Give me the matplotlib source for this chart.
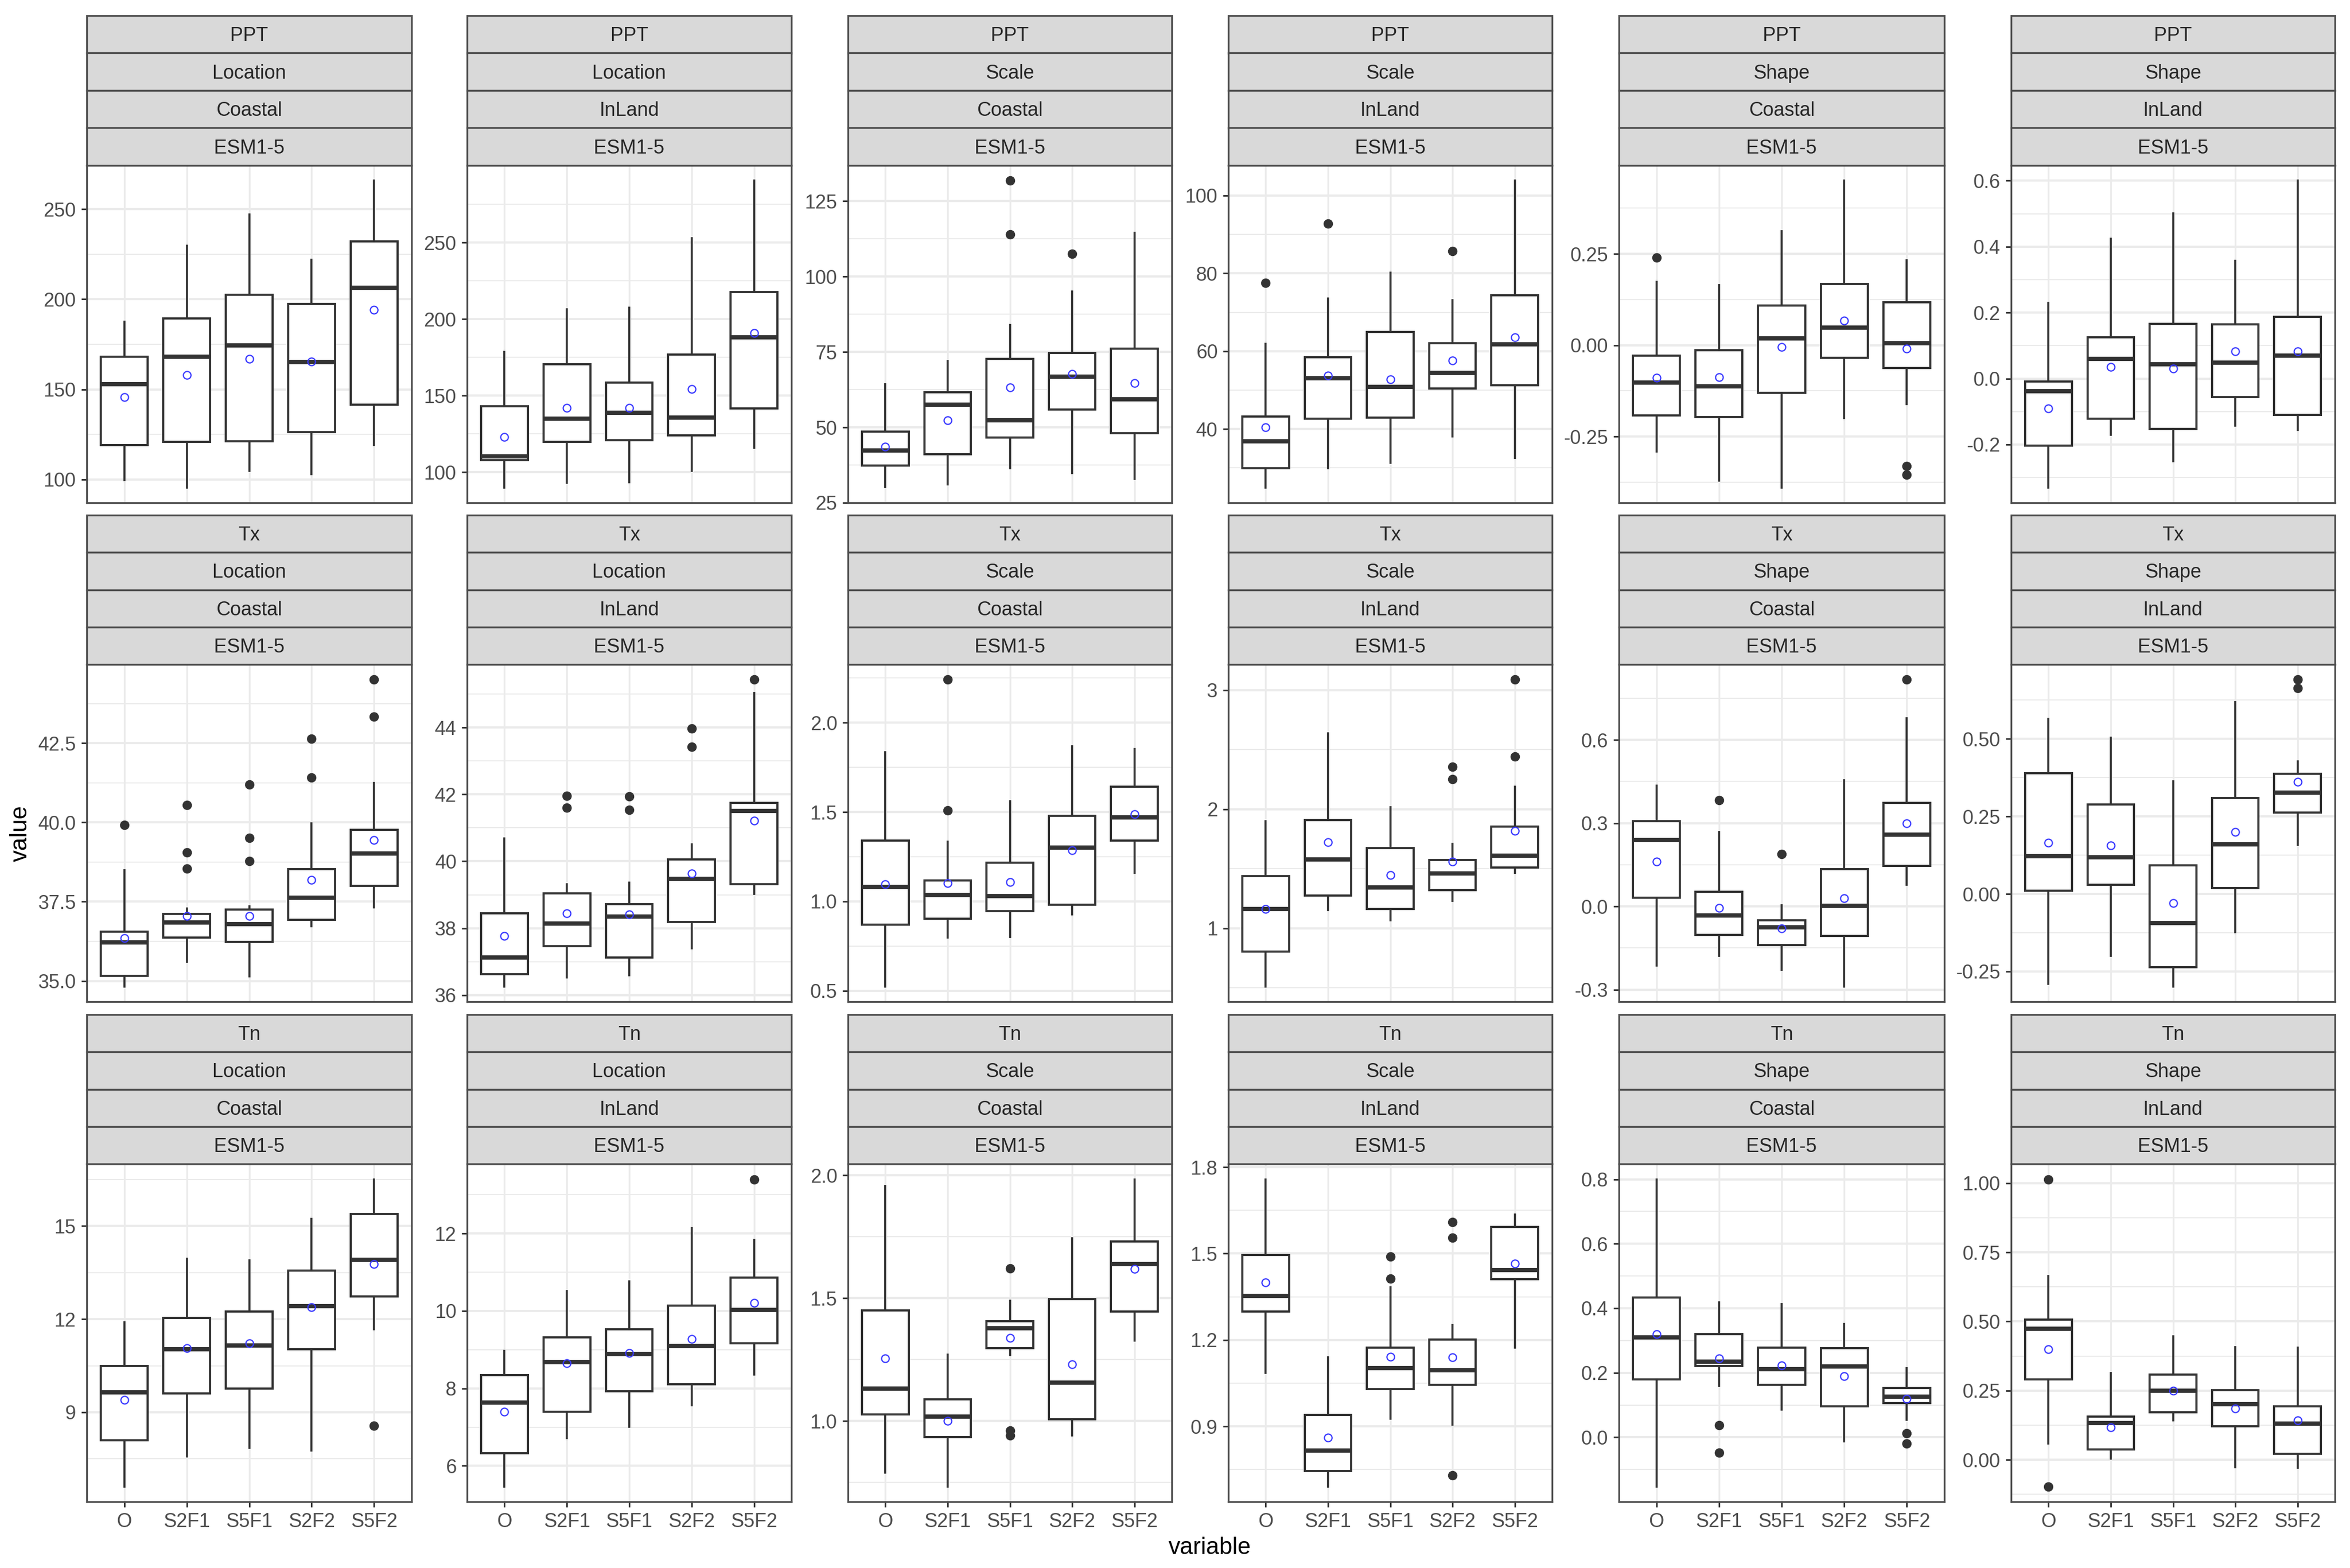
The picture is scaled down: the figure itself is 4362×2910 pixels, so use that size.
import matplotlib
matplotlib.use('Agg')
import matplotlib.pyplot as plt
from matplotlib.patches import Rectangle
from matplotlib.ticker import AutoMinorLocator

plt.rcParams['font.family'] = ['Liberation Sans', 'DejaVu Sans']

# scenarios on the x axis
variables = ['O', 'S2F1', 'S5F1', 'S2F2', 'S5F2']
params = ['PPT', 'Tx', 'Tn']
metrics = ['Location', 'Location', 'Scale', 'Scale', 'Shape', 'Shape']
regions = ['Coastal', 'InLand', 'Coastal', 'InLand', 'Coastal', 'InLand']
model = 'ESM1-5'

# each row: whisker low, q1, median, q3, whisker high, mean
ppt_loc_coastal = [[99.6, 119, 153, 168, 187.7, 145.7], [95.6, 121, 168, 189.4, 229.6, 158],
                   [104.8, 121.3, 174.3, 202.4, 247, 167], [102.9, 126.3, 165, 197.4, 222, 165.4],
                   [119, 141.4, 206.5, 232, 265.8, 194.2]]
ppt_loc_inland = [[90.1, 108, 110.3, 143, 178.7, 122.9], [93, 120, 135, 170.4, 206.3, 142],
                  [93.5, 120.9, 138.8, 158.5, 207.4, 142], [100.7, 124, 135.6, 176.7, 252.7, 154.3],
                  [116, 141.7, 188.1, 217.5, 290.3, 191]]
ppt_scale_coastal = [[30.1, 37.4, 42.3, 48.6, 64.3, 43.6], [31, 41, 57.6, 61.6, 72, 52.4],
                     [36.5, 46.6, 52.4, 72.7, 84, 63.2], [34.9, 56, 66.9, 74.7, 95, 67.7],
                     [32.9, 48.1, 59.3, 76.1, 114.5, 64.6]]
ppt_scale_inland = [[25, 29.9, 36.9, 43.2, 61.9, 40.5], [29.9, 42.7, 53.1, 58.5, 73.5, 53.8],
                    [31.3, 42.9, 50.8, 64.9, 80.2, 52.8], [38.1, 50.4, 54.4, 62.1, 73.1, 57.6],
                    [32.6, 51.2, 61.8, 74.4, 103.8, 63.5]]
ppt_shape_coastal = [[-.291, -.192, -.102, -.028, .173, -.089], [-.370, -.196, -.113, -.013, .165, -.087],
                     [-.389, -.130, .019, .109, .312, -.005], [-.200, -.035, .048, .168, .450, .068],
                     [-.161, -.062, .006, .118, .232, -.010]]
ppt_shape_inland = [[-.330, -.203, -.039, -.009, .230, -.090], [-.171, -.122, .060, .125, .425, .035],
                    [-.251, -.153, .043, .166, .501, .030], [-.142, -.057, .048, .164, .358, .082],
                    [-.156, -.110, .069, .188, .600, .082]]

tx_loc_coastal = [[34.83, 35.17, 36.22, 36.56, 38.5, 36.35], [35.6, 36.37, 36.85, 37.12, 37.29, 37.04],
                  [35.14, 36.23, 36.79, 37.25, 37.35, 37.04], [36.73, 36.93, 37.62, 38.52, 39.97, 38.19],
                  [37.32, 38.0, 39.02, 39.77, 41.24, 39.45]]
tx_loc_inland = [[36.26, 36.62, 37.13, 38.44, 40.68, 37.76], [36.53, 37.46, 38.13, 39.04, 39.32, 38.45],
                 [36.59, 37.13, 38.34, 38.71, 39.36, 38.41], [37.4, 38.18, 39.48, 40.06, 40.51, 39.63],
                 [39.02, 39.32, 41.51, 41.75, 45.04, 41.21]]
tx_scale_coastal = [[.524, .871, 1.081, 1.339, 1.836, 1.096], [.796, .904, 1.037, 1.116, 1.333, 1.103],
                    [.801, .946, 1.028, 1.216, 1.560, 1.107], [.926, .982, 1.302, 1.479, 1.867, 1.286],
                    [1.158, 1.340, 1.470, 1.642, 1.854, 1.488]]
tx_scale_inland = [[.512, .805, 1.164, 1.438, 1.901, 1.164], [1.151, 1.277, 1.578, 1.907, 2.636, 1.721],
                   [1.068, 1.164, 1.345, 1.671, 2.019, 1.449], [1.230, 1.321, 1.460, 1.573, 1.710, 1.562],
                   [1.463, 1.512, 1.608, 1.855, 2.189, 1.817]]
tx_shape_coastal = [[-.214, .032, .240, .308, .435, .162], [-.179, -.103, -.033, .052, .268, -.006],
                    [-.228, -.140, -.075, -.051, .004, -.079], [-.288, -.107, .002, .135, .454, .029],
                    [.079, .146, .258, .373, .679, .300]]
tx_shape_inland = [[-.290, .011, .122, .390, .565, .165], [-.200, .029, .118, .289, .504, .156],
                   [-.298, -.236, -.093, .092, .363, -.029], [-.124, .020, .160, .309, .618, .200],
                   [.158, .263, .326, .388, .428, .362]]

tn_loc_coastal = [[6.61, 8.09, 9.64, 10.5, 11.9, 9.4], [7.57, 9.61, 11.03, 12.04, 13.94, 11.06],
                  [7.85, 9.77, 11.15, 12.25, 13.9, 11.22], [7.77, 11.03, 12.42, 13.57, 15.24, 12.39],
                  [11.67, 12.74, 13.91, 15.39, 16.51, 13.77]]
tn_loc_inland = [[5.47, 6.33, 7.64, 8.34, 8.97, 7.4], [6.71, 7.4, 8.67, 9.31, 10.52, 8.65],
                 [7.01, 7.92, 8.89, 9.53, 10.77, 8.91], [7.56, 8.11, 9.1, 10.14, 12.14, 9.27],
                 [8.36, 9.16, 10.02, 10.86, 11.84, 10.21]]
tn_scale_coastal = [[.789, 1.027, 1.131, 1.449, 1.957, 1.255], [.734, .935, 1.019, 1.089, 1.270, 1.0],
                    [1.268, 1.296, 1.377, 1.407, 1.489, 1.339], [.942, 1.006, 1.157, 1.496, 1.743, 1.231],
                    [1.328, 1.446, 1.638, 1.730, 1.984, 1.619]]
tn_scale_inland = [[1.086, 1.299, 1.354, 1.495, 1.758, 1.399], [.692, .745, .816, .939, 1.140, .862],
                   [.927, 1.029, 1.102, 1.173, 1.383, 1.141], [.907, 1.044, 1.095, 1.202, 1.252, 1.140],
                   [1.173, 1.411, 1.443, 1.593, 1.635, 1.466]]
tn_shape_coastal = [[-.152, .180, .310, .433, .800, .319], [.159, .221, .234, .319, .419, .244],
                    [.086, .162, .211, .278, .413, .223], [-.013, .096, .219, .276, .351, .190],
                    [.055, .106, .126, .153, .215, .119]]
tn_shape_inland = [[.058, .291, .473, .506, .665, .399], [.005, .037, .133, .156, .314, .117],
                   [.142, .171, .249, .309, .447, .249], [-.026, .121, .201, .251, .408, .185],
                   [-.028, .021, .131, .194, .405, .142]]

# outliers per box
ppt_loc_coastal_out = [[], [], [], [], []]
ppt_loc_inland_out = [[], [], [], [], []]
ppt_scale_coastal_out = [[], [], [131.8, 114], [107.5], []]
ppt_scale_inland_out = [[77.5], [92.8], [], [85.7], []]
ppt_shape_coastal_out = [[.240], [], [], [], [-.330, -.354]]
ppt_shape_inland_out = [[], [], [], [], []]
tx_loc_coastal_out = [[39.92], [40.55, 39.05, 38.54], [41.2, 39.52, 38.78], [42.64, 41.42], [44.5, 43.33]]
tx_loc_inland_out = [[], [41.95, 41.6], [41.94, 41.53], [43.97, 43.42], [45.43]]
tx_scale_coastal_out = [[], [2.241, 1.508], [], [], []]
tx_scale_inland_out = [[], [], [], [2.356, 2.252], [3.088, 2.444]]
tx_shape_coastal_out = [[], [.383], [.188], [], [.817]]
tx_shape_inland_out = [[], [], [], [], [.691, .664]]
tn_loc_coastal_out = [[], [], [], [], [8.57]]
tn_loc_inland_out = [[], [], [], [], [13.4]]
tn_scale_coastal_out = [[], [], [1.622, .962, .942], [], []]
tn_scale_inland_out = [[], [], [1.490, 1.413], [1.609, 1.555, .731], []]
tn_shape_coastal_out = [[], [.037, -.048], [], [], [.013, -.019]]
tn_shape_inland_out = [[1.014, -.096], [], [], [], []]

# y tick labels per panel, values are parsed from them
ppt_ticks = [['100', '150', '200', '250'], ['100', '150', '200', '250'], ['25', '50', '75', '100', '125'],
             ['40', '60', '80', '100'], ['-0.25', '0.00', '0.25'], ['-0.2', '0.0', '0.2', '0.4', '0.6']]
tx_ticks = [['35.0', '37.5', '40.0', '42.5'], ['36', '38', '40', '42', '44'], ['0.5', '1.0', '1.5', '2.0'],
            ['1', '2', '3'], ['-0.3', '0.0', '0.3', '0.6'], ['-0.25', '0.00', '0.25', '0.50']]
tn_ticks = [['9', '12', '15'], ['6', '8', '10', '12'], ['1.0', '1.5', '2.0'],
            ['0.9', '1.2', '1.5', '1.8'], ['0.0', '0.2', '0.4', '0.6', '0.8'],
            ['0.00', '0.25', '0.50', '0.75', '1.00']]

panel_stats = [
    [ppt_loc_coastal, ppt_loc_inland, ppt_scale_coastal, ppt_scale_inland, ppt_shape_coastal, ppt_shape_inland],
    [tx_loc_coastal, tx_loc_inland, tx_scale_coastal, tx_scale_inland, tx_shape_coastal, tx_shape_inland],
    [tn_loc_coastal, tn_loc_inland, tn_scale_coastal, tn_scale_inland, tn_shape_coastal, tn_shape_inland],
]
panel_out = [
    [ppt_loc_coastal_out, ppt_loc_inland_out, ppt_scale_coastal_out, ppt_scale_inland_out,
     ppt_shape_coastal_out, ppt_shape_inland_out],
    [tx_loc_coastal_out, tx_loc_inland_out, tx_scale_coastal_out, tx_scale_inland_out,
     tx_shape_coastal_out, tx_shape_inland_out],
    [tn_loc_coastal_out, tn_loc_inland_out, tn_scale_coastal_out, tn_scale_inland_out,
     tn_shape_coastal_out, tn_shape_inland_out],
]
panel_ticks = [ppt_ticks, tx_ticks, tn_ticks]

# layout in pixels of the 4362x2910 image
W, H = 4362, 2910
col_left = [161, 867, 1574, 2280, 3005, 3733]
col_right = [764, 1469, 2175, 2881, 3609, 4334]
row_top = [29, 956, 1883]        # top of the strip stack
panel_top = [307, 1233, 2160]
panel_bottom = [933, 1859, 2787]

DARK = '#333333'
BORDER = '#4d4d4d'
TEXT = '#4d4d4d'

fig = plt.figure(figsize=(W / 300, H / 300), dpi=300)

for r, param in enumerate(params):
    for c in range(6):
        x0, x1 = col_left[c] / W, col_right[c] / W
        y0, y1 = 1 - panel_bottom[r] / H, 1 - panel_top[r] / H
        ax = fig.add_axes([x0, y0, x1 - x0, y1 - y0])

        rows = panel_stats[r][c]
        outs = panel_out[r][c]
        stats = []
        for row, out in zip(rows, outs):
            stats.append({'whislo': row[0], 'q1': row[1], 'med': row[2], 'q3': row[3],
                          'whishi': row[4], 'fliers': out})
        ax.bxp(stats, positions=[1, 2, 3, 4, 5], widths=0.75, patch_artist=True,
               showcaps=False, manage_ticks=False, zorder=3,
               boxprops=dict(facecolor='white', edgecolor=DARK, linewidth=0.95),
               whiskerprops=dict(color=DARK, linewidth=0.9),
               medianprops=dict(color=DARK, linewidth=1.9, solid_capstyle='butt'),
               flierprops=dict(marker='o', markerfacecolor=DARK, markeredgecolor=DARK,
                               markersize=3.9, markeredgewidth=0.3))
        ax.plot([1, 2, 3, 4, 5], [row[5] for row in rows], linestyle='none', marker='o',
                markerfacecolor='none', markeredgecolor='#3a3aff', markersize=3.4,
                markeredgewidth=0.55, zorder=5)

        # same 5% expansion ggplot uses
        all_vals = [v for row in rows for v in row[:5]] + [v for out in outs for v in out]
        lo, hi = min(all_vals), max(all_vals)
        ax.set_ylim(lo - 0.05 * (hi - lo), hi + 0.05 * (hi - lo))
        ax.set_xlim(0.4, 5.6)

        labels = panel_ticks[r][c]
        ax.set_yticks([float(s) for s in labels])
        ax.set_yticklabels(labels)
        ax.yaxis.set_minor_locator(AutoMinorLocator(2))
        ax.set_xticks([1, 2, 3, 4, 5])
        if r == 2:
            ax.set_xticklabels(variables)
            ax.tick_params(axis='x', length=2.4, width=0.7, color=DARK, pad=2.5,
                           labelsize=8.7, labelcolor=TEXT)
        else:
            ax.set_xticklabels([])
            ax.tick_params(axis='x', length=0)
        ax.tick_params(axis='y', which='major', length=2.4, width=0.7, color=DARK, pad=2.4,
                       labelsize=8.7, labelcolor=TEXT)
        ax.tick_params(axis='y', which='minor', length=0)

        ax.set_axisbelow(True)
        ax.grid(True, which='major', axis='y', color='#ebebeb', linewidth=1.0)
        ax.grid(True, which='minor', axis='y', color='#ebebeb', linewidth=0.5)
        ax.grid(True, which='major', axis='x', color='#ebebeb', linewidth=0.8)
        for s in ax.spines.values():
            s.set_color(BORDER)
            s.set_linewidth(0.8)

        # four stacked facet strips
        strip_h = (panel_top[r] - row_top[r]) / 4
        strip_text = [param, metrics[c], regions[c], model]
        for k, txt in enumerate(strip_text):
            top = row_top[r] + k * strip_h
            fig.add_artist(Rectangle((x0, 1 - (top + strip_h) / H), x1 - x0, strip_h / H,
                                     transform=fig.transFigure, facecolor='#d9d9d9',
                                     edgecolor=BORDER, linewidth=0.8))
            fig.text((x0 + x1) / 2, 1 - (top + strip_h / 2 + 3) / H, txt, ha='center', va='center',
                     fontsize=8.7, color='#262626')

fig.text(2246 / W, 1 - 2872 / H, 'variable', ha='center', va='center', fontsize=10.5, color='black')
fig.text(38 / W, 1 - 1547 / H, 'value', ha='center', va='center', rotation=90, fontsize=10.5, color='black')

fig.savefig('out.png', dpi=300, facecolor='white')
plt.close(fig)
